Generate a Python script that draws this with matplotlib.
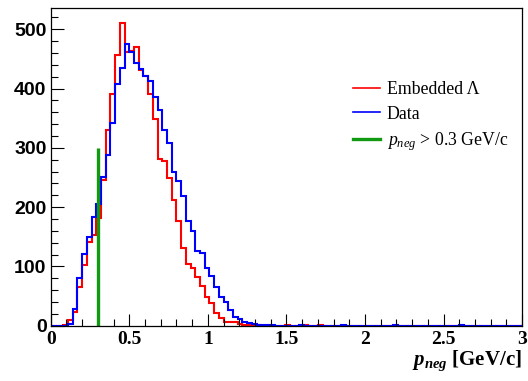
import numpy as np
import matplotlib.pyplot as plt
from matplotlib.ticker import MultipleLocator
from matplotlib.lines import Line2D

plt.rcParams['mathtext.fontset'] = 'custom'
plt.rcParams['mathtext.rm'] = 'Liberation Serif'
plt.rcParams['mathtext.it'] = 'Liberation Serif:italic'
plt.rcParams['mathtext.bf'] = 'Liberation Serif:bold:italic'

# 0.03 GeV/c bins, edges at -0.01 + 0.03*k
bin_start = -0.01
bin_width = 0.03
n_bins = 101

embedded = [0, 0, 0, 2, 10, 24, 65, 102, 141, 153,
            181, 246, 331, 391, 457, 510, 461, 464, 470, 431,
            422, 391, 349, 281, 278, 250, 212, 177, 131, 104,
            98, 83, 67, 48, 38, 21, 13, 7, 7, 7,
            3, 2, 2, 1, 1, 0, 0, 0, 0, 0,
            1, 0, 0, 0, 1, 0, 0, 1]
data = [0, 0, 0, 0, 3, 28, 81, 121, 149, 183,
        206, 251, 288, 342, 407, 434, 475, 462, 444, 433,
        422, 413, 386, 364, 331, 309, 260, 245, 219, 177,
        159, 126, 122, 98, 84, 65, 49, 40, 26, 15,
        12, 7, 4, 3, 2, 2, 1, 1, 0, 0,
        0, 0, 0, 1, 0, 0, 0, 0, 0, 0,
        0, 0, 1, 0, 0, 0, 0, 0, 0, 0,
        0, 0, 0, 1, 0, 0, 0, 0, 0, 0,
        0, 0, 0, 0, 0, 0, 0, 1]
cut_value = 0.3
cut_height = 300

edges = bin_start + bin_width * np.arange(n_bins + 1)
h_emb = np.zeros(n_bins)
h_emb[:len(embedded)] = embedded
h_data = np.zeros(n_bins)
h_data[:len(data)] = data

fig = plt.figure(figsize=(5.28, 3.81), dpi=100)
ax = fig.add_axes([0.096, 0.145, 0.893, 0.834])

ax.stairs(h_emb, edges, color='#ff0000', lw=1.5, baseline=None)
ax.stairs(h_data, edges, color='#0000ff', lw=1.5, baseline=None)
ax.vlines(cut_value, 0, cut_height, color='#119911', lw=2.4)

ax.set_xlim(0, 3)
ax.set_ylim(0, 536)
ax.xaxis.set_major_locator(MultipleLocator(0.5))
ax.xaxis.set_minor_locator(MultipleLocator(0.1))
ax.yaxis.set_major_locator(MultipleLocator(100))
ax.yaxis.set_minor_locator(MultipleLocator(20))
ax.tick_params(which='both', direction='in', top=False, right=False, width=0.8)
ax.tick_params(which='major', length=9)
ax.tick_params(which='minor', length=5)
ax.tick_params(axis='x', pad=4)
ax.tick_params(axis='y', pad=3)
ax.set_xticks([0, 0.5, 1, 1.5, 2, 2.5, 3], ['0', '0.5', '1', '1.5', '2', '2.5', '3'])
for lab in ax.get_xticklabels():
    lab.set_fontfamily('Liberation Serif')
    lab.set_fontweight('bold')
    lab.set_fontsize(14)
for lab in ax.get_yticklabels():
    lab.set_fontfamily('Liberation Sans')
    lab.set_fontweight('bold')
    lab.set_fontsize(14)
for sp in ax.spines.values():
    sp.set_linewidth(0.9)

ax.set_xlabel(r'$\mathbf{p}_{\mathbf{neg}}$ [GeV/c]', loc='right',
              fontfamily='Liberation Serif', fontweight='bold', fontsize=15, labelpad=0)

handles = [Line2D([], [], color='#ff0000', lw=1.2),
           Line2D([], [], color='#0000ff', lw=1.2),
           Line2D([], [], color='#119911', lw=2.4)]
labels = ['Embedded \u039b', 'Data', r'$p_{neg}$ > 0.3 GeV/c']
ax.legend(handles, labels, loc='upper left', bbox_to_anchor=(0.607, 0.82),
          frameon=False, prop={'family': 'Liberation Serif', 'size': 12.8},
          handlelength=1.55, handletextpad=0.35, labelspacing=0.42)

plt.savefig('out.png', dpi=100)
